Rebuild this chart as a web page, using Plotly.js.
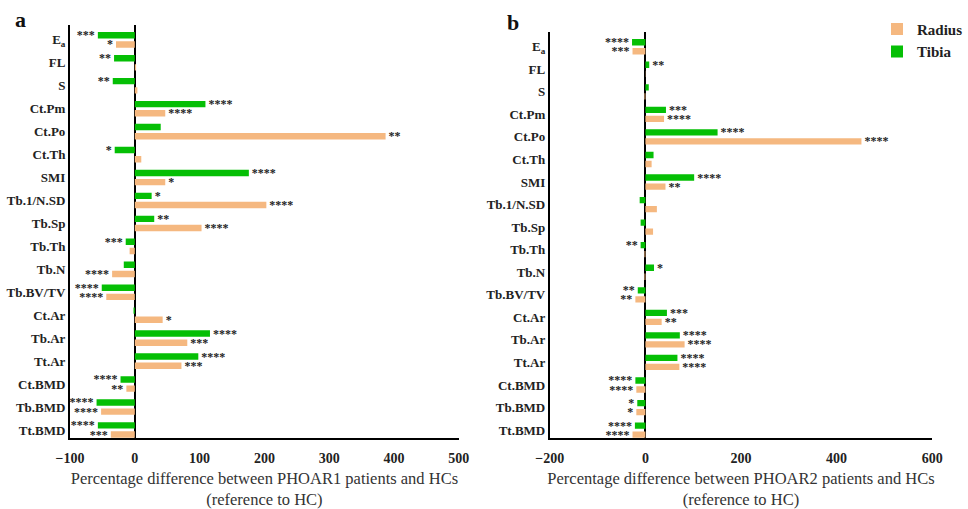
<!DOCTYPE html>
<html>
<head>
<meta charset="utf-8">
<script src="https://cdn.plot.ly/plotly-3.0.1.min.js"></script>
<style>html,body{margin:0;padding:0;background:#fff;}#chart{width:968px;height:509px;}</style>
</head>
<body>
<div id="chart"></div>
<script>
// Categories (top to bottom)
const categories = ['E<sub>a</sub>','FL','S','Ct.Pm','Ct.Po','Ct.Th','SMI','Tb.1/N.SD','Tb.Sp','Tb.Th','Tb.N','Tb.BV/TV','Ct.Ar','Tb.Ar','Tt.Ar','Ct.BMD','Tb.BMD','Tt.BMD'];

// Panel a: PHOAR1 vs HC (%)
const tibiaA  = [-57, -32, -34, 109, 40, -31, 176, 26, 30, -14, -17, -51, -2, 116, 98, -22, -59, -57];
const radiusA = [-29, 2, 4, 47, 387, 10, 47, 203, 103, -8, -35, -44, 43, 81, 72, -13, -52, -37];
const tibiaSigA  = ['***','**','**','****','','*','****','*','**','***','','****','','****','****','****','****','****'];
const radiusSigA = ['*','','','****','**','','*','****','****','','****','****','*','***','***','**','****','***'];

// Panel b: PHOAR2 vs HC (%)
const tibiaB  = [-28, 8, 7, 43, 151, 17, 102, -12, -10, -10, 18, -16, 45, 72, 67, -21, -17, -22];
const radiusB = [-27, 0.5, -2, 39, 452, 13, 42, 24, 16, -2, -2, -21, 34, 82, 71, -19, -19, -27];
const tibiaSigB  = ['****','**','','***','****','','****','','','**','*','**','***','****','****','****','*','****'];
const radiusSigB = ['***','','','****','****','','**','','','','','**','**','****','****','****','*','****'];

const seriesNames = ['Radius','Tibia'];
const GREEN = '#05bf05', ORANGE = '#f5b880';
const SERIF = 'Liberation Serif';

function bar(x, text, name, color, xa, ya, show){
  const tf = {family:SERIF, size:12, color:'#222', weight:'bold'};
  return {type:'bar', orientation:'h', x:x, y:categories, name:name, text:text,
    textposition:'outside', constraintext:'none', cliponaxis:false,
    textfont:tf, outsidetextfont:tf,
    marker:{color:color, line:{width:0}}, xaxis:xa, yaxis:ya, showlegend:show,
    hoverinfo:'x+y'};
}

const data = [
  bar(tibiaA, tibiaSigA, seriesNames[1], GREEN, 'x', 'y', true),
  bar(radiusA, radiusSigA, seriesNames[0], ORANGE, 'x', 'y', true),
  bar(tibiaB, tibiaSigB, seriesNames[1], GREEN, 'x2', 'y2', false),
  bar(radiusB, radiusSigB, seriesNames[0], ORANGE, 'x2', 'y2', false)
];

const yCommon = {type:'category', categoryarray:categories, showline:true, linewidth:2, linecolor:'#000',
  ticks:'', showgrid:false, zeroline:false, range:[17.35,-0.65], ticklabelstandoff:0,
  tickfont:{family:SERIF, size:13, color:'#222', weight:'bold'}};
const xCommon = {showline:true, linewidth:2, linecolor:'#000', ticks:'', showgrid:false,
  zeroline:true, zerolinecolor:'#000', zerolinewidth:2, ticklabelstandoff:6,
  tickfont:{family:SERIF, size:14, color:'#222', weight:'bold'}};

const layout = {
  width:968, height:509, margin:{l:0,r:0,t:0,b:0},
  paper_bgcolor:'#fff', plot_bgcolor:'#fff',
  font:{family:SERIF},
  barmode:'group', bargap:0.2, bargroupgap:0.3,
  showlegend:true,
  legend:{x:1.0, y:0.975, xanchor:'right', yanchor:'top', traceorder:'reversed',
    font:{family:SERIF, size:15, color:'#222', weight:'bold'}, bgcolor:'rgba(0,0,0,0)', itemwidth:30},
  xaxis: Object.assign({}, xCommon, {domain:[0.0723,0.474], range:[-100,500], dtick:100, anchor:'y',
    title:{text:'Percentage difference between PHOAR1 patients and HCs<br>(reference to HC)', standoff:10,
      font:{family:SERIF, size:16.5, color:'#333'}}}),
  yaxis: Object.assign({}, yCommon, {domain:[0.1395,0.951], anchor:'x'}),
  xaxis2: Object.assign({}, xCommon, {domain:[0.568,0.963], range:[-200,600], dtick:200, anchor:'y2',
    title:{text:'Percentage difference between PHOAR2 patients and HCs<br>(reference to HC)', standoff:10,
      font:{family:SERIF, size:16.5, color:'#333'}}}),
  yaxis2: Object.assign({}, yCommon, {domain:[0.1395,0.937], anchor:'x2'}),
  annotations:[
    {text:'a', xref:'paper', yref:'paper', x:20/968, y:1-20/509, showarrow:false, xanchor:'center', yanchor:'middle',
      font:{family:SERIF, size:22, color:'#111', weight:'bold'}},
    {text:'b', xref:'paper', yref:'paper', x:513/968, y:1-22/509, showarrow:false, xanchor:'center', yanchor:'middle',
      font:{family:SERIF, size:22, color:'#111', weight:'bold'}}
  ]
};

Plotly.newPlot('chart', data, layout, {displayModeBar:false, staticPlot:true});
</script>
</body>
</html>
